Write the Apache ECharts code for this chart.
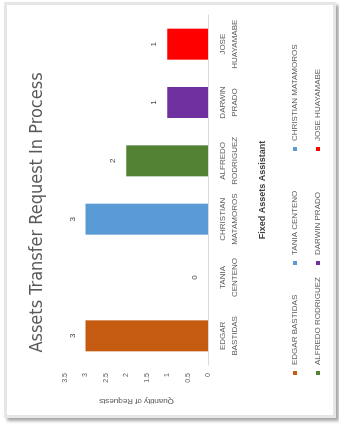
<!DOCTYPE html>
<html>
<head>
<meta charset="utf-8">
<script src="https://cdn.jsdelivr.net/npm/echarts@6/dist/echarts.min.js"></script>
<style>
  html, body { margin: 0; padding: 0; background: #fff; }
  body { width: 339px; height: 425px; position: relative; overflow: hidden; }
  /* marco de la hoja */
  .frame {
    position: absolute; left: 4px; top: 2px; width: 326px; height: 410px;
    border: 3px solid #e6e6e6; box-shadow: 3px 3px 3px rgba(0,0,0,0.35);
  }
  /* el grafico original esta girado 90 grados */
  #main {
    position: absolute; left: -43px; top: 43px; width: 425px; height: 339px;
    transform: rotate(-90deg); transform-origin: 50% 50%;
  }
</style>
</head>
<body>
<div class="frame"></div>
<div id="main"></div>
<script>
// datos
const names = ['EDGAR BASTIDAS', 'TANIA CENTENO', 'CHRISTIAN MATAMOROS', 'ALFREDO RODRIGUEZ', 'DARWIN PRADO', 'JOSE HUAYAMABE'];
const requests = [3, 0, 3, 2, 1, 1];
const colors = ['#C55A11', '#5B9BD5', '#5B9BD5', '#548235', '#7030A0', '#FF0000'];
const yTicks = [0, 0.5, 1, 1.5, 2, 2.5, 3, 3.5];

const font = "'Liberation Sans', Arial, sans-serif";
const narrow = "'Liberation Sans Narrow', 'DejaVu Sans Condensed', sans-serif";

var myChart = echarts.init(document.getElementById('main'));

// una serie por asistente, apiladas para que cada barra quede centrada
const series = names.map((n, i) => ({
  name: n,
  type: 'bar',
  stack: 'total',
  barWidth: 31,
  itemStyle: { color: colors[i] },
  data: names.map((_, j) => (j === i ? requests[i] : '-')),
  label: {
    show: true,
    position: 'top',
    distance: 9,
    color: '#404040',
    fontSize: 8,
    fontFamily: font
  }
}));

// leyenda en dos filas y tres columnas
const legendPos = [
  [50, 291], [160, 291], [274, 291],
  [50, 314], [160, 314], [274, 314]
];
const legends = names.map((n, i) => ({
  data: [n],
  left: legendPos[i][0],
  top: legendPos[i][1],
  icon: 'rect',
  itemWidth: 4,
  itemHeight: 4,
  itemGap: 0,
  padding: 0,
  selectedMode: false,
  textStyle: { color: '#595959', fontSize: 8, fontFamily: font, padding: [0, 0, 0, 1] }
}));

const option = {
  animation: false,
  title: {
    text: 'Assets Transfer Request In Process',
    left: 'center',
    top: 23,
    textStyle: { color: '#595959', fontSize: 18, fontWeight: 'normal', fontFamily: narrow }
  },
  legend: legends,
  grid: { left: 60, right: 15, top: 65, bottom: 131 },
  xAxis: {
    type: 'category',
    data: names,
    name: 'Fixed Assets Assistant',
    nameLocation: 'middle',
    nameGap: 50,
    nameTextStyle: { color: '#404040', fontSize: 9, fontWeight: 'bold', fontFamily: font },
    axisLine: { lineStyle: { color: '#d9d9d9', width: 1 } },
    axisTick: { show: false },
    axisLabel: {
      color: '#595959',
      fontSize: 8,
      fontFamily: font,
      lineHeight: 12,
      margin: 9,
      interval: 0,
      formatter: v => v.replace(' ', '\n')
    }
  },
  yAxis: {
    type: 'value',
    min: 0,
    max: yTicks[yTicks.length - 1],
    interval: 0.5,
    name: 'Quantity of Requests',
    nameLocation: 'middle',
    nameGap: 32,
    nameTextStyle: { color: '#595959', fontSize: 8, fontFamily: font },
    axisLine: { show: false },
    axisTick: { show: false },
    splitLine: { show: false },
    axisLabel: { color: '#595959', fontSize: 7, fontFamily: font, margin: 8 }
  },
  series: series
};

myChart.setOption(option);
</script>
</body>
</html>
